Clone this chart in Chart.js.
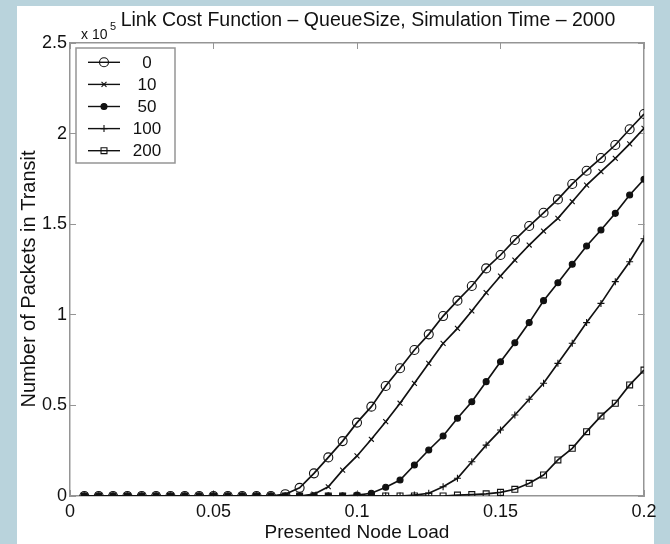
<!DOCTYPE html>
<html>
<head>
<meta charset="utf-8">
<script src="https://cdn.jsdelivr.net/npm/chart.js@4.4.0/dist/chart.umd.min.js"></script>
<style>
  html, body { margin: 0; padding: 0; background: #b9d3dc; }
  canvas { display: block; }
</style>
</head>
<body>
<canvas id="linkCostChart" width="670" height="544"></canvas>
<script>
// presented node load (x)
const loads = [
  0.005, 0.010, 0.015, 0.020, 0.025, 0.030, 0.035, 0.040, 0.045, 0.050,
  0.055, 0.060, 0.065, 0.070, 0.075, 0.080, 0.085, 0.090, 0.095, 0.100,
  0.105, 0.110, 0.115, 0.120, 0.125, 0.130, 0.135, 0.140, 0.145, 0.150,
  0.155, 0.160, 0.165, 0.170, 0.175, 0.180, 0.185, 0.190, 0.195, 0.200
];

// packets in transit, one array per queue size
const queue0 = [
  0, 0, 0, 0, 0, 0, 0, 0, 0, 0,
  0, 0, 0, 0, 1000, 4500, 12500, 21300, 30300, 40500,
  49300, 60700, 70500, 80600, 89200, 99300, 107800, 115900, 125600, 133000,
  141300, 149000, 156300, 163700, 172200, 179500, 186500, 193700, 202400, 210800
];
const queue10 = [
  0, 0, 0, 0, 0, 0, 0, 0, 0, 0,
  0, 0, 0, 0, 0, 0, 1000, 5100, 14300, 22100,
  31300, 41000, 51200, 62200, 73200, 84200, 92500, 102100, 112200, 121400,
  130200, 138500, 146200, 153200, 162400, 171600, 179000, 186300, 194300, 202900
];
const queue50 = [
  0, 0, 0, 0, 0, 0, 0, 0, 0, 0,
  0, 0, 0, 0, 0, 0, 0, 0, 0, 500,
  1500, 4800, 8800, 17100, 25400, 33100, 42900, 52000, 63100, 74100,
  84600, 95700, 107800, 117700, 127900, 138000, 146800, 156000, 166100, 174800
];
const queue100 = [
  0, 0, 0, 0, 0, 0, 0, 0, 0, 0,
  0, 0, 0, 0, 0, 0, 0, 0, 0, 0,
  0, 0, 0, 500, 1500, 5100, 9800, 18900, 28100, 36400,
  44700, 53400, 62200, 73200, 84300, 95700, 106300, 118300, 129300, 142000
];
const queue200 = [
  0, 0, 0, 0, 0, 0, 0, 0, 0, 0,
  0, 0, 0, 0, 0, 0, 0, 0, 0, 0,
  0, 0, 0, 0, 0, 0, 500, 800, 1200, 2000,
  3700, 7000, 11600, 19900, 26300, 35500, 44100, 51200, 61300, 69500
];

const seriesLabels = ["0", "10", "50", "100", "200"];
const seriesValues = [queue0, queue10, queue50, queue100, queue200];

const xTickValues = [0, 0.05, 0.1, 0.15, 0.2];
const xTickLabels = ["0", "0.05", "0.1", "0.15", "0.2"];
const yTickValues = [0, 50000, 100000, 150000, 200000, 250000];
const yTickLabels = ["0", "0.5", "1", "1.5", "2", "2.5"];

const FONT = "'Liberation Sans', Arial, Helvetica, sans-serif";
const ink = "#111111";
const frameColor = "#959595";

const markerStyles = [
  { pointStyle: "circle", radius: 4.5, fill: "rgba(0,0,0,0)" },
  { pointStyle: "crossRot", radius: 3.5, fill: "rgba(0,0,0,0)" },
  { pointStyle: "circle", radius: 3, fill: ink },
  { pointStyle: "cross", radius: 3.5, fill: "rgba(0,0,0,0)" },
  { pointStyle: "rect", radius: 4.2, fill: "rgba(0,0,0,0)" }
];

const datasets = seriesLabels.map((label, i) => ({
  label: label,
  data: loads.map((x, k) => ({ x: x, y: seriesValues[i][k] })),
  borderColor: ink,
  borderWidth: 1.7,
  tension: 0,
  fill: false,
  pointStyle: markerStyles[i].pointStyle,
  pointRadius: markerStyles[i].radius,
  pointBackgroundColor: markerStyles[i].fill,
  pointBorderColor: ink,
  pointBorderWidth: 1.1
}));

// white sheet, title, y label and exponent label
const sheetPlugin = {
  id: "sheet",
  beforeDraw(chart) {
    const ctx = chart.ctx;
    ctx.save();
    ctx.fillStyle = "#b9d3dc";
    ctx.fillRect(0, 0, chart.width, chart.height);
    ctx.fillStyle = "#ffffff";
    ctx.fillRect(17, 6, 637, 538);
    ctx.restore();
  },
  afterDraw(chart) {
    const ctx = chart.ctx;
    ctx.save();
    ctx.fillStyle = ink;
    ctx.textAlign = "center";
    ctx.textBaseline = "middle";
    ctx.font = "19.5px " + FONT;
    ctx.fillText("Link Cost Function \u2013 QueueSize, Simulation Time \u2013 2000", 368, 21);

    ctx.save();
    ctx.translate(29, 279);
    ctx.rotate(-Math.PI / 2);
    ctx.font = "20px " + FONT;
    ctx.fillText("Number of Packets in Transit", 0, 0);
    ctx.restore();

    ctx.textAlign = "left";
    ctx.textBaseline = "alphabetic";
    ctx.font = "14px " + FONT;
    ctx.fillText("x 10", 81, 39);
    ctx.font = "11px " + FONT;
    ctx.fillText("5", 110, 30);
    ctx.restore();
  }
};

// boxed legend in the upper left corner of the axes
const boxLegendPlugin = {
  id: "boxLegend",
  afterDatasetsDraw(chart) {
    const ctx = chart.ctx;
    const left = 76, top = 48, w = 99, h = 115;
    ctx.save();
    ctx.fillStyle = "#ffffff";
    ctx.fillRect(left, top, w, h);
    ctx.strokeStyle = frameColor;
    ctx.lineWidth = 1.5;
    ctx.strokeRect(left, top, w, h);
    chart.data.datasets.forEach((ds, i) => {
      const y = top + 14.3 + i * 22.1;
      ctx.strokeStyle = ink;
      ctx.lineWidth = 1.4;
      ctx.beginPath();
      ctx.moveTo(left + 12, y);
      ctx.lineTo(left + 44, y);
      ctx.stroke();
      ctx.lineWidth = 1.1;
      ctx.fillStyle = ds.pointBackgroundColor;
      Chart.helpers.drawPoint(ctx, {
        pointStyle: ds.pointStyle,
        radius: ds.pointRadius,
        borderWidth: 1.1,
        rotation: 0
      }, left + 28, y);
      ctx.fillStyle = ink;
      ctx.font = "17px " + FONT;
      ctx.textAlign = "center";
      ctx.textBaseline = "middle";
      ctx.fillText(ds.label, 147, y + 1);
    });
    ctx.restore();
  }
};

const insideGrid = { drawOnChartArea: false, tickLength: -6, color: frameColor, lineWidth: 1 };
const frameBorder = { color: frameColor, width: 1.5 };

new Chart(document.getElementById("linkCostChart").getContext("2d"), {
  type: "line",
  data: { datasets: datasets },
  plugins: [sheetPlugin, boxLegendPlugin],
  options: {
    responsive: false,
    animation: false,
    devicePixelRatio: 1,
    layout: { padding: { left: 0, top: 43, right: 26, bottom: 0 } },
    plugins: {
      legend: { display: false },
      title: { display: false },
      tooltip: { enabled: false }
    },
    scales: {
      x: {
        type: "linear",
        position: "bottom",
        min: 0,
        max: 0.2,
        afterBuildTicks: s => { s.ticks = xTickValues.map(v => ({ value: v })); },
        afterFit: s => { s.height = 48; },
        ticks: {
          callback: (v, i) => xTickLabels[i],
          font: { family: FONT, size: 18 },
          color: ink,
          padding: 11,
          maxRotation: 0,
          autoSkip: false
        },
        grid: insideGrid,
        border: frameBorder,
        title: {
          display: true,
          text: "Presented Node Load",
          font: { family: FONT, size: 19 },
          color: ink,
          padding: { top: 0, bottom: 0 }
        }
      },
      x2: {
        type: "linear",
        position: "top",
        min: 0,
        max: 0.2,
        afterBuildTicks: s => { s.ticks = xTickValues.map(v => ({ value: v })); },
        afterFit: s => { s.height = 0; },
        ticks: { display: false },
        grid: insideGrid,
        border: frameBorder
      },
      y: {
        type: "linear",
        position: "left",
        min: 0,
        max: 250000,
        afterBuildTicks: s => { s.ticks = yTickValues.map(v => ({ value: v })); },
        afterFit: s => { s.width = 70; },
        ticks: {
          callback: (v, i) => yTickLabels[i],
          font: { family: FONT, size: 18 },
          color: ink,
          padding: 9
        },
        grid: insideGrid,
        border: frameBorder
      },
      y2: {
        type: "linear",
        position: "right",
        min: 0,
        max: 250000,
        afterBuildTicks: s => { s.ticks = yTickValues.map(v => ({ value: v })); },
        afterFit: s => { s.width = 0; },
        ticks: { display: false },
        grid: insideGrid,
        border: frameBorder
      }
    }
  }
});
</script>
</body>
</html>
